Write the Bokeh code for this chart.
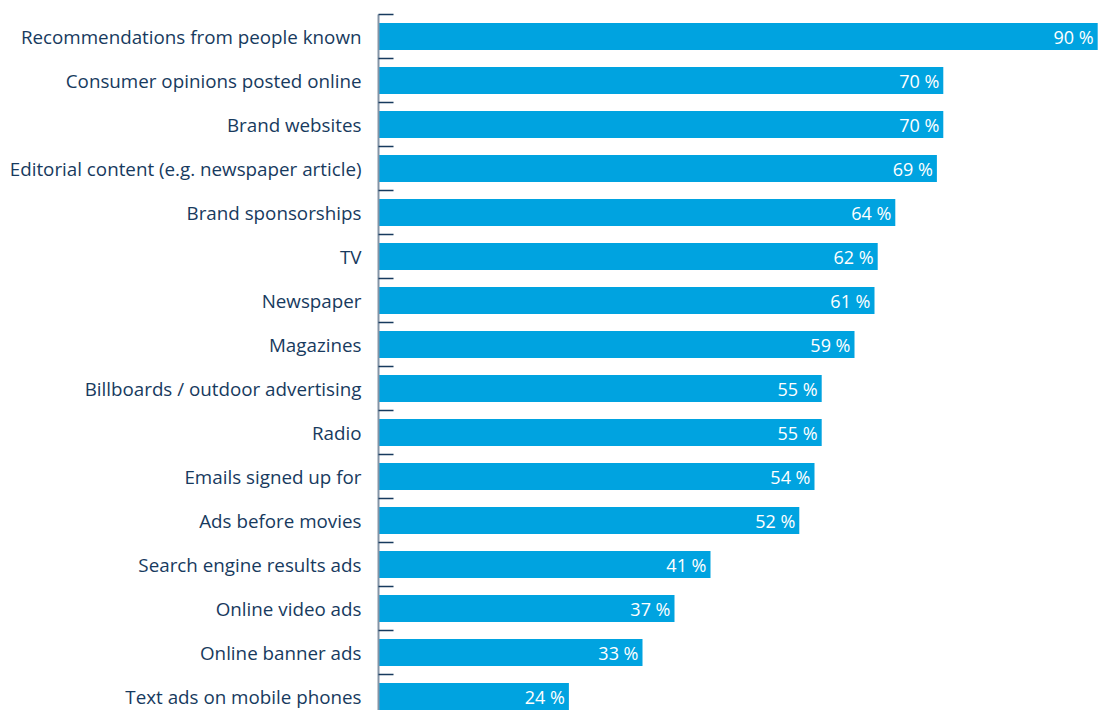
from bokeh.plotting import figure
from bokeh.models import ColumnDataSource, FixedTicker, Range1d
from bokeh.core.properties import value
from bokeh.embed import file_html
from bokeh.resources import INLINE

categories = [
    "Recommendations from people known",
    "Consumer opinions posted online",
    "Brand websites",
    "Editorial content (e.g. newspaper article)",
    "Brand sponsorships",
    "TV",
    "Newspaper",
    "Magazines",
    "Billboards / outdoor advertising",
    "Radio",
    "Emails signed up for",
    "Ads before movies",
    "Search engine results ads",
    "Online video ads",
    "Online banner ads",
    "Text ads on mobile phones",
]
values = [89.9, 70.6, 70.6, 69.8, 64.6, 62.4, 62.0, 59.5, 55.4, 55.4, 54.5, 52.6, 41.5, 37.0, 33.0, 23.8]
value_labels = ["90 %", "70 %", "70 %", "69 %", "64 %", "62 %", "61 %", "59 %",
                "55 %", "55 %", "54 %", "52 %", "41 %", "37 %", "33 %", "24 %"]

pos = list(range(len(categories)))
src = ColumnDataSource(dict(y=pos, v=values, lab=value_labels))

NAVY = "#173a5e"
BLUE = "#00a3e0"

p = figure(width=1101, height=710, output_backend="svg", toolbar_location=None,
           x_range=Range1d(0, 90.375), y_range=Range1d(15.318, -0.5),
           min_border_left=378, min_border_right=0, min_border_top=14, min_border_bottom=0,
           x_axis_location=None)
p.outline_line_color = None
p.xgrid.visible = False
p.ygrid.visible = False
p.background_fill_color = "white"
p.border_fill_color = "white"

p.hbar(y="y", right="v", left=0, height=0.61, source=src, fill_color=BLUE, line_color=None)
p.text(x="v", y="y", text="lab", source=src, x_offset=-4, text_align="right",
       text_baseline="middle", text_color="white", text_font=value("Open Sans"),
       text_font_size="18px")

ax = p.yaxis[0]
ax.ticker = FixedTicker(ticks=pos, minor_ticks=[i - 0.5 for i in pos])
ax.major_label_overrides = {i: c for i, c in zip(pos, categories)}
ax.major_tick_in = 0
ax.major_tick_out = 0
ax.minor_tick_in = 15
ax.minor_tick_out = 0
ax.minor_tick_line_color = NAVY
ax.minor_tick_line_width = 1.5
ax.axis_line_color = "#8494a6"
ax.axis_line_width = 2
ax.major_label_standoff = 17
ax.major_label_text_font = "Open Sans"
ax.major_label_text_font_size = "18.8px"
ax.major_label_text_color = NAVY

open("out.html", "w").write(file_html(p, INLINE))
